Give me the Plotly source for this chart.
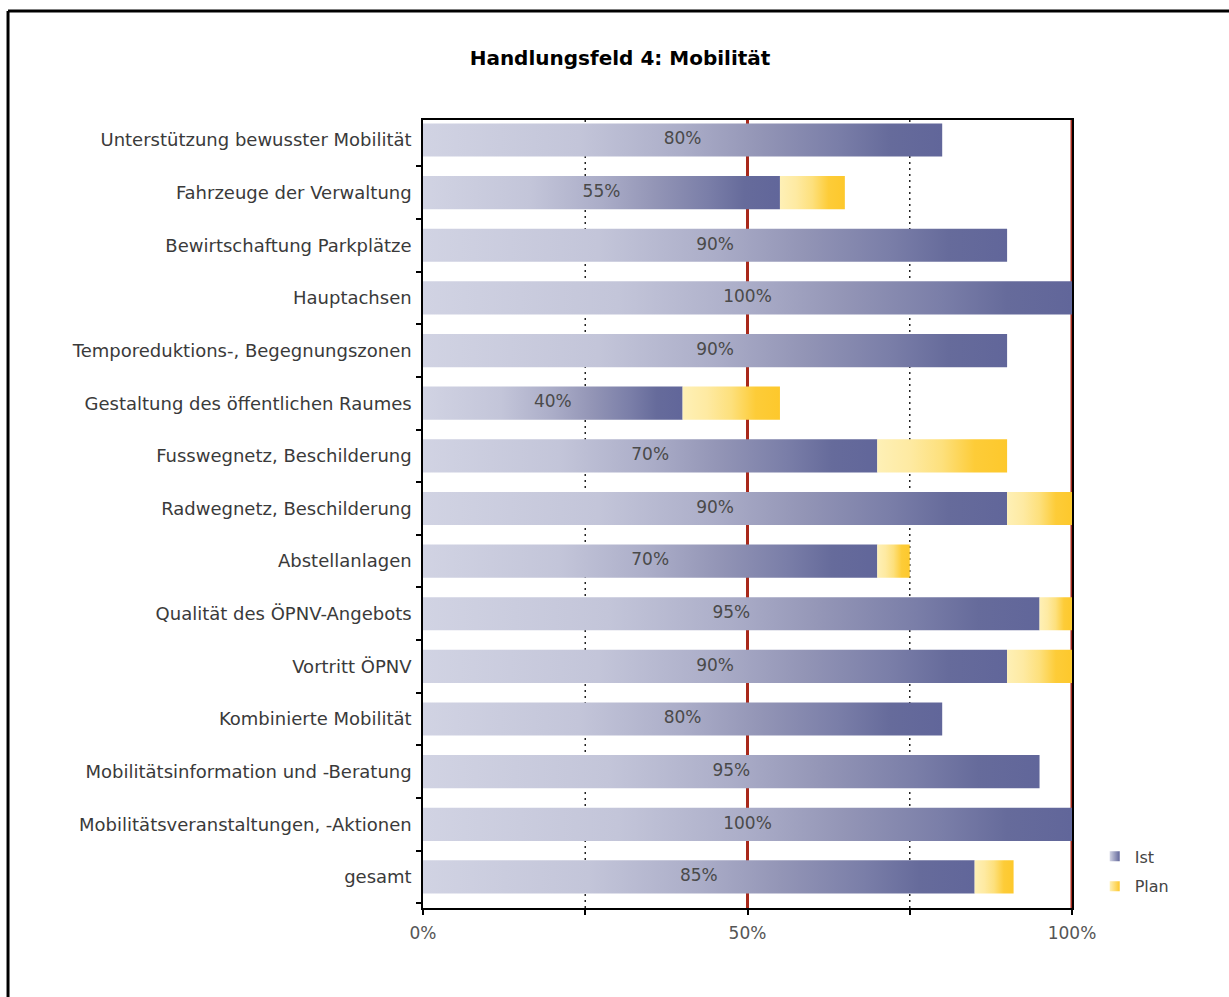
import plotly.graph_objects as go

categories = [
    "Unterstützung bewusster Mobilität",
    "Fahrzeuge der Verwaltung",
    "Bewirtschaftung Parkplätze",
    "Hauptachsen",
    "Temporeduktions-, Begegnungszonen",
    "Gestaltung des öffentlichen Raumes",
    "Fusswegnetz, Beschilderung",
    "Radwegnetz, Beschilderung",
    "Abstellanlagen",
    "Qualität des ÖPNV-Angebots",
    "Vortritt ÖPNV",
    "Kombinierte Mobilität",
    "Mobilitätsinformation und -Beratung",
    "Mobilitätsveranstaltungen, -Aktionen",
    "gesamt",
]
ist = [80, 55, 90, 100, 90, 40, 70, 90, 70, 95, 90, 80, 95, 100, 85]
plan = [0, 10, 0, 0, 0, 15, 20, 10, 5, 5, 10, 0, 0, 0, 6]
x_ticks = [0, 25, 50, 75, 100]
x_ticktext = ["0%", "", "50%", "", "100%"]
series_names = ["Ist", "Plan"]

BAR_H = 0.63
IST_SCALE = [[0, "#d1d3e3"], [0.3, "#c3c5d9"], [0.5, "#abadc8"], [0.65, "#9395b6"],
             [0.8, "#7a7ea8"], [0.9, "#666b9b"], [1, "#61669a"]]
PLAN_SCALE = [[0, "#fef0b6"], [0.25, "#feeaa2"], [0.5, "#fde07c"], [0.75, "#fdcc38"],
              [1, "#fdc82c"]]

fig = go.Figure()

def bar_trace(x0, x1, yc, scale, name):
    h = BAR_H / 2
    return go.Scatter(
        x=[x0, x1, x1, x0, x0],
        y=[yc - h, yc - h, yc + h, yc + h, yc - h],
        mode="lines", fill="toself",
        line=dict(width=0),
        fillgradient=dict(type="horizontal", colorscale=scale, start=x0, stop=x1),
        name=name, showlegend=False, hoverinfo="skip",
    )

for i, (c, v, p) in enumerate(zip(categories, ist, plan)):
    fig.add_trace(bar_trace(0, v, i, IST_SCALE, series_names[0]))
    if p > 0:
        fig.add_trace(bar_trace(v, v + p, i, PLAN_SCALE, series_names[1]))

fig.add_trace(go.Scatter(
    x=[v / 2 for v in ist], y=list(range(len(categories))),
    mode="text", text=[f"{v}%" for v in ist],
    textfont=dict(family="DejaVu Sans", size=17, color="#4a4a4a"),
    showlegend=False, hoverinfo="skip",
))

# legend entries (small gradient squares)
for name, dark, light in [(series_names[0], "#61669a", "#d1d3e3"),
                          (series_names[1], "#fdc82c", "#fef0b6")]:
    fig.add_trace(go.Scatter(
        x=[None], y=[None], mode="markers", name=name, legendgroup=name,
        marker=dict(symbol="square", size=10, color=light,
                    gradient=dict(type="horizontal", color=dark), line=dict(width=0)),
        hoverinfo="skip",
    ))

# grid lines
for xv, col, dash, w in [(25, "#222222", "2px,4px", 1.5), (75, "#222222", "2px,4px", 1.5),
                         (50, "#a8281a", "solid", 3), (100, "#a8281a", "solid", 3)]:
    fig.add_shape(type="line", x0=xv, x1=xv, y0=0, y1=1, xref="x", yref="paper",
                  line=dict(color=col, width=w, dash=dash), layer="below")

# outer page border (top and left)
fig.add_shape(type="line", xref="paper", yref="paper", x0=-0.6394, x1=1.4, y0=1.1383, y1=1.1383,
              line=dict(color="black", width=3))
fig.add_shape(type="line", xref="paper", yref="paper", x0=-0.6394, x1=-0.6394, y0=-0.2, y1=1.1383,
              line=dict(color="black", width=3))

fig.update_layout(
    width=1229, height=997,
    margin=dict(l=423, r=157, t=120, b=89),
    paper_bgcolor="white", plot_bgcolor="white",
    title=dict(text="<b>Handlungsfeld 4: Mobilität</b>", x=0.5045, xref="container",
               y=1 - 58 / 997, yref="container", xanchor="center", yanchor="middle",
               font=dict(family="DejaVu Sans", size=20, color="black")),
    xaxis=dict(range=[0, 100], tickvals=x_ticks, ticktext=x_ticktext,
               showgrid=False, zeroline=False, showline=True, linecolor="black", linewidth=1.5,
               mirror=True, ticks="outside", ticklen=5, tickcolor="black", tickwidth=1.5,
               ticklabelstandoff=4,
               tickfont=dict(family="DejaVu Sans", size=17, color="#555555")),
    yaxis=dict(range=[14.59, -0.38], tickvals=list(range(len(categories))), ticktext=categories,
               showgrid=False, zeroline=False, showline=True, linecolor="black", linewidth=1.5,
               mirror=True, ticks="", ticklabelstandoff=6,
               minor=dict(tickmode="linear", tick0=0.5, dtick=1, ticks="outside", ticklen=5,
                          tickcolor="black", tickwidth=1.5, showgrid=False),
               tickfont=dict(family="DejaVu Sans", size=18, color="#3a3a3a")),
    legend=dict(x=1.035, y=0.087, xanchor="left", yanchor="top",
                font=dict(family="DejaVu Sans", size=16, color="#444444"),
                bgcolor="rgba(0,0,0,0)", tracegroupgap=6),
    showlegend=True,
)

fig.write_html("out.html")
